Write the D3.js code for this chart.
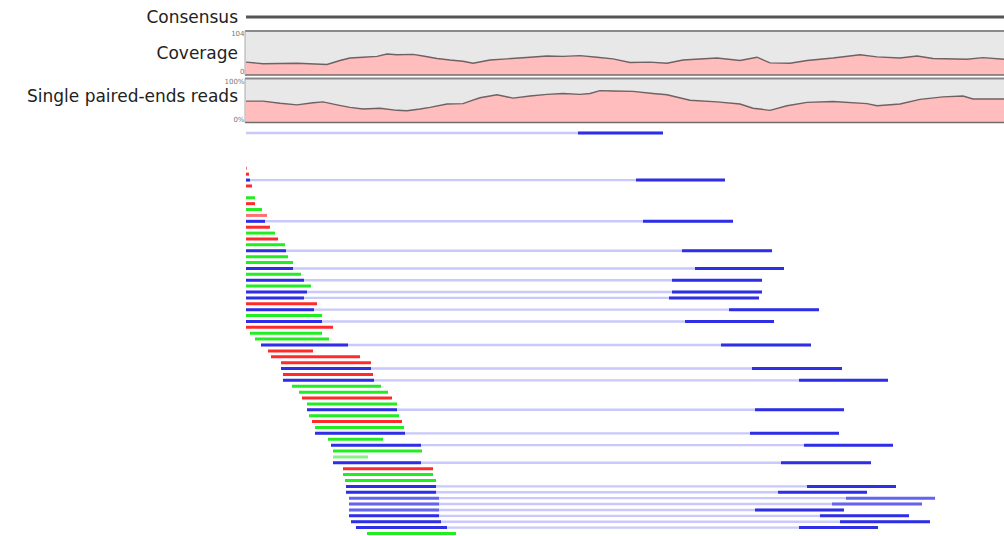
<!DOCTYPE html>
<html>

<head>
  <title>Reads</title>
  <script src="https://cdn.jsdelivr.net/npm/d3@7"></script>
  <style>
    body { margin: 0; background: #fff; }
  </style>
</head>

<body>
  <svg width="1004" height="536" id="mainsvg"></svg>
  <script>
    // coverage track (position in bp, depth)
    const covPos = [0, 17, 51, 81, 94, 104, 117, 131, 141, 151, 167, 177, 191, 204, 217, 227, 244, 261, 284, 301, 317, 334, 351, 367, 384, 404, 421, 437, 471, 494, 511, 524, 544, 561, 587, 614, 631, 654, 671, 687, 721, 737, 758];
    const covVal = [32, 28, 29, 26, 36, 42, 44, 46, 52, 50, 51, 47, 41, 37, 34, 29, 37, 40, 44, 47, 46, 48, 44, 40, 31, 32, 29, 37, 42, 36, 44, 30, 29, 36, 42, 50, 45, 42, 47, 41, 39, 43, 39];
    // single paired-ends reads track (position in bp, percent)
    const pctPos = [0, 17, 34, 51, 67, 77, 91, 104, 117, 134, 151, 161, 174, 184, 201, 217, 224, 234, 251, 267, 284, 301, 317, 334, 344, 354, 367, 387, 407, 421, 444, 471, 494, 507, 524, 541, 561, 587, 621, 631, 654, 674, 697, 717, 727, 758];
    const pctVal = [51, 51, 46, 42, 47, 49, 42, 36, 32, 34, 29, 28, 32, 36, 44, 45, 51, 59, 66, 58, 63, 67, 69, 67, 69, 76, 75, 74, 69, 66, 53, 49, 44, 34, 29, 40, 48, 50, 45, 40, 44, 55, 61, 63, 56, 56];

    // reads: row, start, end (bp), kind  R red, G green, B blue (paired), lower case = faded
    const readRows = [-6, 0, 1, 2, 3, 5, 6, 7, 8, 9, 10, 11, 12, 13, 14, 15, 16, 17, 18, 19, 20, 21, 22, 23, 24, 25, 26, 27, 28, 29, 30, 31, 32, 33, 34, 35, 36, 37, 38, 39, 40, 41, 42, 43, 44, 45, 46, 47, 48, 49, 50, 51, 52, 53, 54, 55, 56, 57, 58, 59, 60, 61, 62];
    const readStarts = [0, 0, 0, 0, 0, 0, 0, 0, 0, 0, 0, 0, 0, 0, 0, 0, 0, 0, 0, 0, 0, 0, 0, 0, 0, 0, 0, 0, 4, 9, 15, 22, 25, 35, 35, 37, 37, 46, 53, 56, 61, 61, 63, 66, 69, 69, 82, 85, 87, 87, 87, 97, 97, 99, 100, 100, 103, 103, 103, 103, 105, 110, 121];
    const readEnds = [0, 1, 3, 4, 6, 9, 9, 16, 21, 19, 24, 29, 32, 39, 40, 42, 47, 47, 55, 58, 65, 61, 58, 71, 68, 76, 76, 87, 76, 83, 102, 67, 114, 125, 125, 127, 128, 135, 142, 146, 151, 151, 153, 156, 158, 159, 137, 175, 176, 122, 175, 187, 187, 190, 190, 190, 193, 193, 193, 193, 195, 201, 210];
    const readKinds = ["B", "r", "R", "B", "R", "G", "R", "G", "r", "B", "R", "G", "R", "G", "B", "G", "G", "B", "G", "B", "G", "B", "B", "R", "B", "G", "B", "R", "G", "G", "B", "R", "R", "R", "B", "R", "B", "G", "G", "R", "G", "B", "G", "R", "G", "B", "G", "B", "G", "g", "B", "R", "G", "G", "B", "B", "b", "b", "b", "B", "B", "B", "G"];

    // mates of the blue reads
    const mateRows = [-6, 2, 9, 14, 17, 19, 21, 22, 24, 26, 30, 34, 36, 41, 45, 47, 50, 54, 55, 56, 57, 58, 59, 60, 61];
    const mateStarts = [332, 390, 397, 436, 449, 426, 426, 423, 483, 439, 475, 506, 553, 509, 504, 558, 535, 561, 532, 600, 586, 509, 574, 594, 553];
    const mateEnds = [417, 479, 487, 526, 538, 516, 516, 513, 573, 528, 565, 596, 642, 598, 593, 647, 625, 650, 621, 689, 676, 598, 663, 684, 632];
    const mateKinds = ["B", "B", "B", "B", "B", "B", "B", "B", "B", "B", "B", "B", "B", "B", "B", "B", "B", "B", "B", "b", "b", "B", "B", "B", "B"];

    const svg = d3.select('#mainsvg');
    const width = +svg.attr('width');

    const x = d3.scaleLinear().domain([0, 758]).range([246, 1004]);
    const rowY = d3.scaleLinear().domain([0, 62]).range([168.3, 533.5]);
    const colors = { R: '#ff2b2b', G: '#22ec22', B: '#2e2ee6', r: '#ff7070', g: '#8af08a', b: '#6464ee' };

    const font = 'DejaVu Sans, sans-serif';

    // labels
    const labels = [['Consensus', 22.7], ['Coverage', 59.3], ['Single paired-ends reads', 101.7]];
    svg.selectAll('.label')
      .data(labels)
      .join('text')
      .attr('class', 'label')
      .attr('x', 238)
      .attr('y', d => d[1])
      .attr('text-anchor', 'end')
      .attr('font-family', font)
      .attr('font-size', 17)
      .attr('fill', '#222')
      .text(d => d[0]);

    // consensus
    svg.append('line')
      .attr('x1', x(0)).attr('x2', width)
      .attr('y1', 17).attr('y2', 17)
      .attr('stroke', '#555').attr('stroke-width', 3);

    const drawTrack = function (top, bottom, pos, val, max, topLabel, bottomLabel) {
      const y = d3.scaleLinear().domain([0, max]).range([bottom, top + 2]);
      const g = svg.append('g');
      g.append('rect')
        .attr('x', x(0) - 1).attr('y', top)
        .attr('width', width - x(0) + 2).attr('height', bottom - top)
        .attr('fill', '#e8e8e8');
      const pts = pos.map((p, i) => [p, val[i]]);
      g.append('path')
        .datum(pts)
        .attr('d', d3.area().x(d => x(d[0])).y0(bottom).y1(d => y(d[1])))
        .attr('fill', '#ffbdbd');
      g.append('path')
        .datum(pts)
        .attr('d', d3.line().x(d => x(d[0])).y(d => y(d[1])))
        .attr('fill', 'none')
        .attr('stroke', '#6f6262').attr('stroke-width', 1.4);
      // borders
      g.append('line')
        .attr('x1', x(0) - 1).attr('x2', width).attr('y1', top).attr('y2', top)
        .attr('stroke', '#8a8a8a').attr('stroke-width', 2);
      g.append('line')
        .attr('x1', x(0) - 1).attr('x2', width).attr('y1', bottom).attr('y2', bottom)
        .attr('stroke', '#6e6e6e').attr('stroke-width', 1.5);
      g.append('line')
        .attr('x1', x(0) - 1).attr('x2', x(0) - 1).attr('y1', top).attr('y2', bottom)
        .attr('stroke', '#aaa').attr('stroke-width', 1);
      g.selectAll('text')
        .data([[topLabel, top + 5], [bottomLabel, bottom - 1]])
        .join('text')
        .attr('x', x(0) - 1.5)
        .attr('y', d => d[1])
        .attr('text-anchor', 'end')
        .attr('font-family', font)
        .attr('font-size', 7)
        .attr('fill', '#777')
        .text(d => d[0]);
    };

    drawTrack(31, 75, covPos, covVal, 104, '104', '0');
    drawTrack(78.5, 122.5, pctPos, pctVal, 100, '100%', '0%');

    // pair links
    svg.selectAll('.link')
      .data(mateRows)
      .join('line')
      .attr('class', 'link')
      .attr('x1', d => x(readStarts[readRows.indexOf(d)]))
      .attr('x2', (d, i) => x(mateEnds[i]))
      .attr('y1', d => rowY(d)).attr('y2', d => rowY(d))
      .attr('stroke', '#c9c9fb').attr('stroke-width', 2.4);

    // reads
    svg.selectAll('.read')
      .data(readRows)
      .join('line')
      .attr('class', 'read')
      .attr('x1', (d, i) => x(readStarts[i]))
      .attr('x2', (d, i) => x(readEnds[i]))
      .attr('y1', d => rowY(d)).attr('y2', d => rowY(d))
      .attr('stroke', (d, i) => colors[readKinds[i]])
      .attr('stroke-width', 3);

    svg.selectAll('.mate')
      .data(mateRows)
      .join('line')
      .attr('class', 'mate')
      .attr('x1', (d, i) => x(mateStarts[i]))
      .attr('x2', (d, i) => x(mateEnds[i]))
      .attr('y1', d => rowY(d)).attr('y2', d => rowY(d))
      .attr('stroke', (d, i) => colors[mateKinds[i]])
      .attr('stroke-width', 3);
  </script>
</body>

</html>
